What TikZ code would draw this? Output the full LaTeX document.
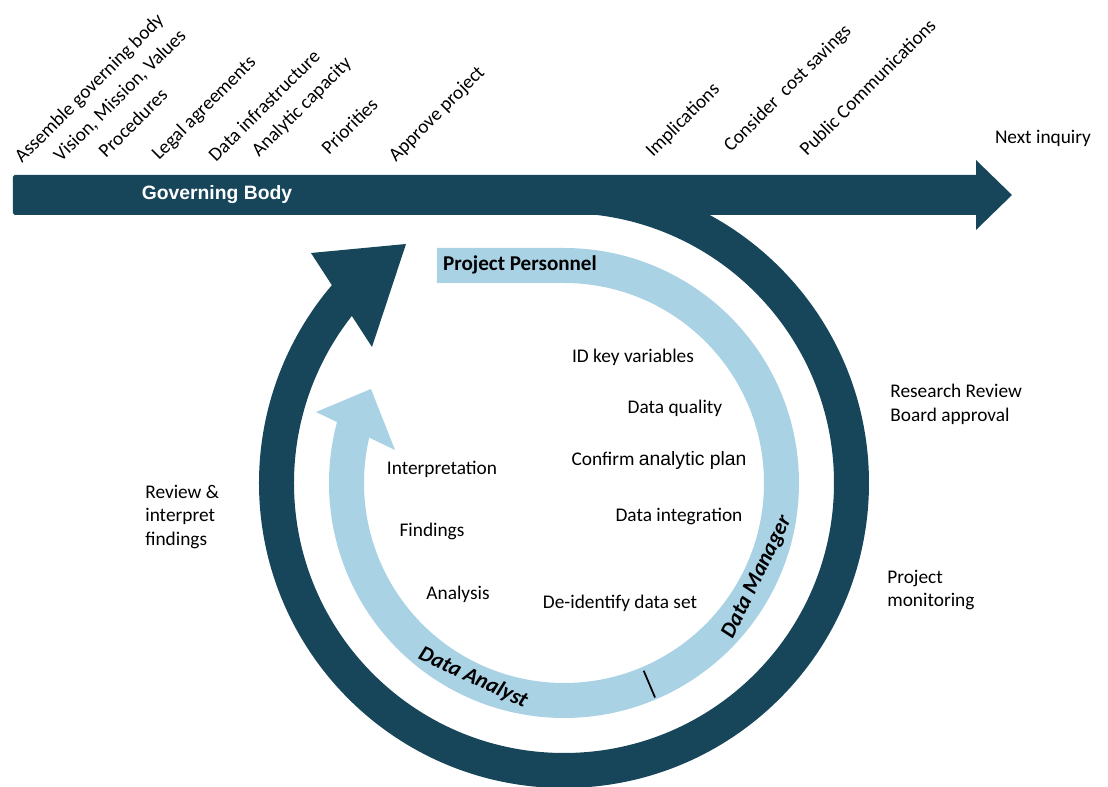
\documentclass[tikz,border=0pt]{standalone}
\usepackage{fontspec}
\setmainfont{Carlito}
\newfontfamily\arialfont{Liberation Sans}
\usepackage{tikz}
\usetikzlibrary{calc}
\definecolor{govc}{HTML}{17465B}
\definecolor{projc}{HTML}{A9D2E5}

\tikzset{
  tilt/.style={rotate=45, anchor=base west, inner sep=0pt},
  task/.style={inner sep=1pt},
  side/.style={align=left, anchor=west, inner sep=0pt},
  role/.style={font=\fontsize{12.5}{14}\selectfont\bfseries\itshape, inner sep=0pt}
}

\begin{document}
\begin{tikzpicture}[font=\fontsize{11}{13.6}\selectfont]
  \useasboundingbox (-11.28,-6.08) rectangle (10.88,9.66);
  % governing body bar
  \fill[govc, rounded corners=1pt] (-11.02,5.36) rectangle (8.30,6.16);
  \fill[govc] (8.24,6.46) -- (8.96,5.76) -- (8.24,5.06) -- cycle;
  \node[text=white, font=\arialfont\fontsize{11}{13}\selectfont\bfseries] (gb) at (-6.94,5.76) {Governing Body};
  \node (next) at (9.58,6.90) {Next inquiry};
  % steps along the bar
  \foreach \x/\y/\w [count=\n] in {-10.84/6.38/Assemble governing body,
      -10.06/6.40/{Vision, Mission, Values}, -9.16/6.48/Procedures,
      -8.10/6.44/Legal agreements, -6.96/6.40/Data infrastructure,
      -6.10/6.50/Analytic capacity, -4.70/6.54/Priorities,
      -3.36/6.40/Approve project, 1.78/6.50/Implications,
      3.34/6.60/Consider~ cost savings, 4.86/6.52/Public Communications}
     \node[tilt] (s\n) at (\x,\y) {\w};

  % outer cycle
  \draw[govc, line width=0.7cm] (90:5.75) arc (90:-221:5.75);
  \fill[govc] (-5.06,4.60) -- (-3.16,4.78) -- (-3.84,2.72) -- cycle;

  % inner cycle
  \draw[projc, line width=0.7cm] (-2.54,4.35) -- (0,4.35) arc (90:-196:4.35);
  \fill[projc] (-4.96,1.42) -- (-3.86,1.88) -- (-3.38,0.66) -- cycle;
  \draw[black, line width=1pt] (-67:4.08) -- (-67:4.66);
  \node[font=\fontsize{12}{14}\selectfont\bfseries] (pp) at (-0.88,4.36) {Project Personnel};
  \node[role, rotate=-25] (da) at (-115:4.3) {Data Analyst};
  \node[role, rotate=64] (dm) at (-26:4.3) {Data Manager};

  % tasks inside the cycle
  \node[task] (t1) at (1.38,2.52) {ID key variables};
  \node[task] (t2) at (2.22,1.50) {Data quality};
  \node[task] (t3) at (1.90,0.44) {Confirm {\arialfont analytic plan}};
  \node[task] (t4) at (2.30,-0.66) {Data integration};
  \node[task] (t5) at (1.12,-2.40) {De-identify data set};
  \node[task] (t6) at (-2.44,0.28) {Interpretation};
  \node[task] (t7) at (-2.64,-0.96) {Findings};
  \node[task] (t8) at (-2.12,-2.22) {Analysis};

  % outside the cycle
  \node[side] (rev) at (-8.38,-0.68) {Review \&\\ interpret\\ findings};
  \node[side] (rrb) at (6.52,1.58) {Research Review\\ Board approval};
  \node[side] (mon) at (6.46,-2.14) {Project\\ monitoring};
\end{tikzpicture}
\end{document}
